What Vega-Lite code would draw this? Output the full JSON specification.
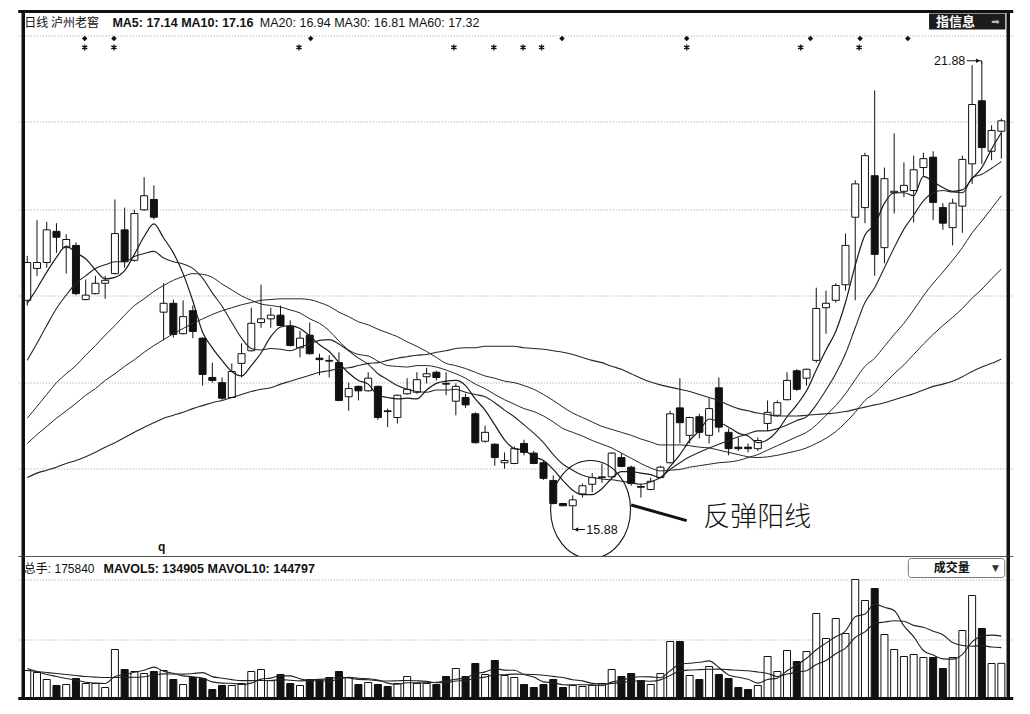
{
"$schema": "https://vega.github.io/schema/vega-lite/v6.json",
"background": "#ffffff",
"padding": {"left": 16.25, "top": 9.5, "right": 15.25, "bottom": 14.5},
"autosize": {"type": "pad"},
"spacing": 0,
"bounds": "flush",
"config": {
 "view": {"stroke": null},
 "axisX": {"grid": false, "labels": false, "ticks": false, "domain": false, "title": null},
 "axisY": {"grid": true, "gridColor": "#9a9a9a", "gridDash": [1, 2], "gridWidth": 1, "labels": false, "ticks": false, "domain": false, "title": null}
},
"datasets": {
"k": [
{"i":0,"o":18.66,"h":19.26,"l":18.59,"c":19.17,"v":140000,"m5":18.62,"m10":17.85,"m20":17.07,"m30":16.73,"m60":16.27,"mv5":150000,"mv10":140000},
{"i":1,"o":19.09,"h":19.74,"l":18.99,"c":19.17,"v":130000,"m5":18.82,"m10":18.08,"m20":17.23,"m30":16.85,"m60":16.33,"mv5":135000,"mv10":135000},
{"i":2,"o":19.17,"h":19.72,"l":19.10,"c":19.61,"v":95000,"m5":19.04,"m10":18.32,"m20":17.39,"m30":16.96,"m60":16.37,"mv5":120000,"mv10":130000},
{"i":3,"o":19.59,"h":19.70,"l":19.30,"c":19.51,"v":65000,"m5":19.24,"m10":18.55,"m20":17.55,"m30":17.07,"m60":16.41,"mv5":110000,"mv10":125000},
{"i":4,"o":19.37,"h":19.55,"l":19.02,"c":19.48,"v":70000,"m5":19.39,"m10":18.73,"m20":17.67,"m30":17.17,"m60":16.46,"mv5":100000,"mv10":120000},
{"i":5,"o":19.40,"h":19.44,"l":18.73,"c":18.75,"v":100000,"m5":19.30,"m10":18.89,"m20":17.78,"m30":17.27,"m60":16.50,"mv5":92000,"mv10":115000},
{"i":6,"o":18.67,"h":18.94,"l":18.66,"c":18.73,"v":75000,"m5":19.22,"m10":18.99,"m20":17.92,"m30":17.38,"m60":16.55,"mv5":81000,"mv10":110000},
{"i":7,"o":18.75,"h":18.99,"l":18.74,"c":18.89,"v":75000,"m5":19.07,"m10":19.09,"m20":18.05,"m30":17.47,"m60":16.61,"mv5":77000,"mv10":107000},
{"i":8,"o":18.89,"h":18.99,"l":18.68,"c":18.93,"v":55000,"m5":18.95,"m10":19.14,"m20":18.19,"m30":17.58,"m60":16.68,"mv5":75000,"mv10":105000},
{"i":9,"o":19.02,"h":20.02,"l":19.01,"c":19.56,"v":245000,"m5":18.97,"m10":19.18,"m20":18.32,"m30":17.67,"m60":16.74,"mv5":110000,"mv10":105000},
{"i":10,"o":19.61,"h":19.91,"l":19.10,"c":19.18,"v":145000,"m5":19.06,"m10":19.18,"m20":18.46,"m30":17.77,"m60":16.81,"mv5":119000,"mv10":105500},
{"i":11,"o":19.20,"h":19.88,"l":19.18,"c":19.83,"v":135000,"m5":19.28,"m10":19.25,"m20":18.59,"m30":17.86,"m60":16.88,"mv5":131000,"mv10":106000},
{"i":12,"o":19.88,"h":20.32,"l":19.87,"c":20.07,"v":125000,"m5":19.52,"m10":19.29,"m20":18.68,"m30":17.96,"m60":16.95,"mv5":141000,"mv10":109000},
{"i":13,"o":20.02,"h":20.21,"l":19.75,"c":19.78,"v":135000,"m5":19.69,"m10":19.32,"m20":18.78,"m30":18.05,"m60":17.01,"mv5":157000,"mv10":116000},
{"i":14,"o":18.50,"h":18.89,"l":18.12,"c":18.62,"v":140000,"m5":19.50,"m10":19.23,"m20":18.86,"m30":18.13,"m60":17.07,"mv5":136000,"mv10":123000},
{"i":15,"o":18.62,"h":18.67,"l":18.16,"c":18.20,"v":95000,"m5":19.30,"m10":19.18,"m20":18.93,"m30":18.21,"m60":17.11,"mv5":126000,"mv10":122500},
{"i":16,"o":18.21,"h":18.66,"l":18.20,"c":18.44,"v":70000,"m5":19.02,"m10":19.15,"m20":18.98,"m30":18.28,"m60":17.15,"mv5":113000,"mv10":122000},
{"i":17,"o":18.52,"h":18.59,"l":18.15,"c":18.24,"v":105000,"m5":18.65,"m10":19.09,"m20":19.02,"m30":18.35,"m60":17.20,"mv5":109000,"mv10":125000},
{"i":18,"o":18.15,"h":18.16,"l":17.51,"c":17.66,"v":100000,"m5":18.23,"m10":18.96,"m20":19.01,"m30":18.41,"m60":17.24,"mv5":102000,"mv10":129500},
{"i":19,"o":17.62,"h":17.82,"l":17.55,"c":17.58,"v":45000,"m5":18.02,"m10":18.76,"m20":18.97,"m30":18.47,"m60":17.28,"mv5":83000,"mv10":109500},
{"i":20,"o":17.55,"h":17.62,"l":17.32,"c":17.34,"v":65000,"m5":17.85,"m10":18.58,"m20":18.88,"m30":18.52,"m60":17.31,"mv5":77000,"mv10":101500},
{"i":21,"o":17.35,"h":17.81,"l":17.34,"c":17.70,"v":65000,"m5":17.70,"m10":18.36,"m20":18.80,"m30":18.56,"m60":17.35,"mv5":76000,"mv10":94500},
{"i":22,"o":17.81,"h":18.08,"l":17.62,"c":17.94,"v":75000,"m5":17.64,"m10":18.15,"m20":18.72,"m30":18.60,"m60":17.39,"mv5":70000,"mv10":89500},
{"i":23,"o":17.98,"h":18.56,"l":17.97,"c":18.35,"v":135000,"m5":17.78,"m10":18.01,"m20":18.66,"m30":18.63,"m60":17.43,"mv5":77000,"mv10":89500},
{"i":24,"o":18.36,"h":18.87,"l":18.29,"c":18.41,"v":145000,"m5":17.95,"m10":17.99,"m20":18.61,"m30":18.66,"m60":17.46,"mv5":97000,"mv10":90000},
{"i":25,"o":18.41,"h":18.56,"l":18.29,"c":18.46,"v":90000,"m5":18.17,"m10":18.01,"m20":18.59,"m30":18.67,"m60":17.48,"mv5":102000,"mv10":89500},
{"i":26,"o":18.46,"h":18.59,"l":18.31,"c":18.32,"v":120000,"m5":18.30,"m10":18.00,"m20":18.57,"m30":18.68,"m60":17.53,"mv5":113000,"mv10":94500},
{"i":27,"o":18.31,"h":18.39,"l":18.04,"c":18.05,"v":75000,"m5":18.32,"m10":17.98,"m20":18.53,"m30":18.68,"m60":17.57,"mv5":113000,"mv10":91500},
{"i":28,"o":18.02,"h":18.25,"l":17.89,"c":18.15,"v":65000,"m5":18.28,"m10":18.03,"m20":18.49,"m30":18.68,"m60":17.61,"mv5":99000,"mv10":88000},
{"i":29,"o":18.19,"h":18.36,"l":17.93,"c":17.94,"v":95000,"m5":18.18,"m10":18.07,"m20":18.41,"m30":18.67,"m60":17.65,"mv5":89000,"mv10":93000},
{"i":30,"o":17.88,"h":17.94,"l":17.65,"c":17.86,"v":90000,"m5":18.06,"m10":18.12,"m20":18.35,"m30":18.63,"m60":17.69,"mv5":89000,"mv10":95500},
{"i":31,"o":17.85,"h":17.92,"l":17.62,"c":17.84,"v":105000,"m5":17.97,"m10":18.13,"m20":18.25,"m30":18.58,"m60":17.71,"mv5":86000,"mv10":99500},
{"i":32,"o":17.82,"h":17.96,"l":17.30,"c":17.31,"v":135000,"m5":17.82,"m10":18.07,"m20":18.11,"m30":18.50,"m60":17.74,"mv5":98000,"mv10":105500},
{"i":33,"o":17.36,"h":17.55,"l":17.17,"c":17.47,"v":105000,"m5":17.68,"m10":17.98,"m20":17.99,"m30":18.44,"m60":17.75,"mv5":106000,"mv10":102500},
{"i":34,"o":17.50,"h":17.51,"l":17.31,"c":17.44,"v":70000,"m5":17.58,"m10":17.88,"m20":17.93,"m30":18.37,"m60":17.78,"mv5":101000,"mv10":95000},
{"i":35,"o":17.44,"h":17.69,"l":17.43,"c":17.61,"v":80000,"m5":17.53,"m10":17.80,"m20":17.91,"m30":18.33,"m60":17.81,"mv5":99000,"mv10":94000},
{"i":36,"o":17.50,"h":17.51,"l":17.05,"c":17.08,"v":70000,"m5":17.38,"m10":17.67,"m20":17.84,"m30":18.27,"m60":17.82,"mv5":92000,"mv10":89000},
{"i":37,"o":17.17,"h":17.20,"l":16.95,"c":17.16,"v":60000,"m5":17.35,"m10":17.59,"m20":17.78,"m30":18.22,"m60":17.85,"mv5":77000,"mv10":87500},
{"i":38,"o":17.08,"h":17.39,"l":17.00,"c":17.38,"v":75000,"m5":17.33,"m10":17.51,"m20":17.77,"m30":18.17,"m60":17.88,"mv5":71000,"mv10":88500},
{"i":39,"o":17.40,"h":17.61,"l":17.39,"c":17.46,"v":110000,"m5":17.34,"m10":17.46,"m20":17.76,"m30":18.10,"m60":17.90,"mv5":79000,"mv10":90000},
{"i":40,"o":17.42,"h":17.69,"l":17.40,"c":17.59,"v":75000,"m5":17.33,"m10":17.43,"m20":17.78,"m30":18.04,"m60":17.92,"mv5":78000,"mv10":88500},
{"i":41,"o":17.63,"h":17.75,"l":17.54,"c":17.67,"v":75000,"m5":17.45,"m10":17.42,"m20":17.78,"m30":17.97,"m60":17.93,"mv5":79000,"mv10":85500},
{"i":42,"o":17.69,"h":17.71,"l":17.58,"c":17.62,"v":70000,"m5":17.54,"m10":17.45,"m20":17.76,"m30":17.89,"m60":17.96,"mv5":81000,"mv10":79000},
{"i":43,"o":17.54,"h":17.69,"l":17.38,"c":17.53,"v":110000,"m5":17.57,"m10":17.45,"m20":17.72,"m30":17.81,"m60":17.98,"mv5":88000,"mv10":79500},
{"i":44,"o":17.30,"h":17.54,"l":17.11,"c":17.50,"v":150000,"m5":17.58,"m10":17.46,"m20":17.67,"m30":17.78,"m60":18.01,"mv5":96000,"mv10":87500},
{"i":45,"o":17.35,"h":17.40,"l":17.21,"c":17.25,"v":110000,"m5":17.51,"m10":17.42,"m20":17.61,"m30":17.74,"m60":18.02,"mv5":103000,"mv10":90500},
{"i":46,"o":17.13,"h":17.15,"l":16.73,"c":16.74,"v":175000,"m5":17.33,"m10":17.39,"m20":17.53,"m30":17.69,"m60":18.02,"mv5":123000,"mv10":101000},
{"i":47,"o":16.76,"h":16.97,"l":16.74,"c":16.88,"v":120000,"m5":17.18,"m10":17.36,"m20":17.47,"m30":17.64,"m60":18.04,"mv5":133000,"mv10":107000},
{"i":48,"o":16.72,"h":16.73,"l":16.43,"c":16.54,"v":190000,"m5":16.98,"m10":17.28,"m20":17.39,"m30":17.61,"m60":18.04,"mv5":149000,"mv10":118500},
{"i":49,"o":16.47,"h":16.61,"l":16.39,"c":16.50,"v":115000,"m5":16.78,"m10":17.18,"m20":17.32,"m30":17.57,"m60":18.04,"mv5":142000,"mv10":119000},
{"i":50,"o":16.46,"h":16.69,"l":16.45,"c":16.66,"v":105000,"m5":16.66,"m10":17.09,"m20":17.26,"m30":17.55,"m60":18.04,"mv5":141000,"mv10":122000},
{"i":51,"o":16.73,"h":16.78,"l":16.57,"c":16.61,"v":70000,"m5":16.64,"m10":16.98,"m20":17.20,"m30":17.51,"m60":18.02,"mv5":120000,"mv10":121500},
{"i":52,"o":16.60,"h":16.63,"l":16.45,"c":16.46,"v":55000,"m5":16.55,"m10":16.87,"m20":17.16,"m30":17.46,"m60":18.01,"mv5":107000,"mv10":120000},
{"i":53,"o":16.47,"h":16.50,"l":16.24,"c":16.26,"v":70000,"m5":16.50,"m10":16.74,"m20":17.10,"m30":17.39,"m60":18.00,"mv5":83000,"mv10":116000},
{"i":54,"o":16.23,"h":16.30,"l":15.91,"c":15.92,"v":95000,"m5":16.38,"m10":16.58,"m20":17.02,"m30":17.31,"m60":17.98,"mv5":79000,"mv10":110500},
{"i":55,"o":15.92,"h":15.93,"l":15.89,"c":15.89,"v":55000,"m5":16.23,"m10":16.45,"m20":16.93,"m30":17.22,"m60":17.96,"mv5":69000,"mv10":105000},
{"i":56,"o":15.89,"h":16.03,"l":15.88,"c":15.97,"v":65000,"m5":16.10,"m10":16.37,"m20":16.88,"m30":17.14,"m60":17.93,"mv5":68000,"mv10":94000},
{"i":57,"o":16.05,"h":16.19,"l":16.00,"c":16.16,"v":60000,"m5":16.04,"m10":16.30,"m20":16.83,"m30":17.08,"m60":17.89,"mv5":69000,"mv10":88000},
{"i":58,"o":16.18,"h":16.33,"l":16.07,"c":16.27,"v":65000,"m5":16.04,"m10":16.27,"m20":16.77,"m30":17.02,"m60":17.85,"mv5":68000,"mv10":75500},
{"i":59,"o":16.27,"h":16.46,"l":16.20,"c":16.28,"v":75000,"m5":16.12,"m10":16.25,"m20":16.72,"m30":16.96,"m60":17.82,"mv5":64000,"mv10":71500},
{"i":60,"o":16.28,"h":16.61,"l":16.27,"c":16.60,"v":145000,"m5":16.26,"m10":16.24,"m20":16.67,"m30":16.92,"m60":17.77,"mv5":82000,"mv10":75500},
{"i":61,"o":16.54,"h":16.60,"l":16.41,"c":16.42,"v":110000,"m5":16.35,"m10":16.22,"m20":16.60,"m30":16.88,"m60":17.73,"mv5":91000,"mv10":79500},
{"i":62,"o":16.41,"h":16.43,"l":16.16,"c":16.19,"v":125000,"m5":16.35,"m10":16.20,"m20":16.53,"m30":16.84,"m60":17.67,"mv5":104000,"mv10":86500},
{"i":63,"o":16.15,"h":16.19,"l":16.00,"c":16.14,"v":90000,"m5":16.33,"m10":16.18,"m20":16.46,"m30":16.79,"m60":17.61,"mv5":109000,"mv10":88500},
{"i":64,"o":16.11,"h":16.27,"l":16.10,"c":16.22,"v":70000,"m5":16.31,"m10":16.21,"m20":16.40,"m30":16.75,"m60":17.56,"mv5":108000,"mv10":86000},
{"i":65,"o":16.27,"h":16.43,"l":16.26,"c":16.41,"v":125000,"m5":16.27,"m10":16.27,"m20":16.36,"m30":16.71,"m60":17.52,"mv5":104000,"mv10":93000},
{"i":66,"o":16.47,"h":17.17,"l":16.46,"c":17.13,"v":285000,"m5":16.42,"m10":16.38,"m20":16.37,"m30":16.71,"m60":17.49,"mv5":139000,"mv10":115000},
{"i":67,"o":17.21,"h":17.61,"l":16.73,"c":17.01,"v":285000,"m5":16.58,"m10":16.47,"m20":16.38,"m30":16.71,"m60":17.46,"mv5":171000,"mv10":137500},
{"i":68,"o":16.84,"h":17.09,"l":16.73,"c":17.08,"v":115000,"m5":16.77,"m10":16.55,"m20":16.41,"m30":16.70,"m60":17.43,"mv5":176000,"mv10":142500},
{"i":69,"o":17.09,"h":17.13,"l":16.80,"c":16.88,"v":95000,"m5":16.90,"m10":16.61,"m20":16.43,"m30":16.68,"m60":17.39,"mv5":181000,"mv10":144500},
{"i":70,"o":16.84,"h":17.34,"l":16.73,"c":17.20,"v":160000,"m5":17.06,"m10":16.67,"m20":16.45,"m30":16.67,"m60":17.35,"mv5":188000,"mv10":146000},
{"i":71,"o":17.48,"h":17.62,"l":16.88,"c":16.95,"v":120000,"m5":17.02,"m10":16.72,"m20":16.47,"m30":16.64,"m60":17.31,"mv5":155000,"mv10":147000},
{"i":72,"o":16.88,"h":16.93,"l":16.57,"c":16.66,"v":100000,"m5":16.95,"m10":16.77,"m20":16.48,"m30":16.61,"m60":17.25,"mv5":118000,"mv10":144500},
{"i":73,"o":16.68,"h":16.81,"l":16.63,"c":16.66,"v":55000,"m5":16.87,"m10":16.82,"m20":16.50,"m30":16.58,"m60":17.20,"mv5":106000,"mv10":141000},
{"i":74,"o":16.68,"h":16.73,"l":16.61,"c":16.66,"v":45000,"m5":16.83,"m10":16.86,"m20":16.54,"m30":16.55,"m60":17.17,"mv5":96000,"mv10":138500},
{"i":75,"o":16.66,"h":16.81,"l":16.63,"c":16.77,"v":65000,"m5":16.74,"m10":16.90,"m20":16.58,"m30":16.54,"m60":17.14,"mv5":77000,"mv10":132500},
{"i":76,"o":17.00,"h":17.31,"l":16.90,"c":17.15,"v":210000,"m5":16.78,"m10":16.90,"m20":16.64,"m30":16.55,"m60":17.12,"mv5":95000,"mv10":125000},
{"i":77,"o":17.11,"h":17.31,"l":17.09,"c":17.28,"v":135000,"m5":16.90,"m10":16.93,"m20":16.70,"m30":16.57,"m60":17.10,"mv5":102000,"mv10":110000},
{"i":78,"o":17.32,"h":17.69,"l":17.31,"c":17.58,"v":240000,"m5":17.09,"m10":16.98,"m20":16.76,"m30":16.60,"m60":17.10,"mv5":139000,"mv10":122500},
{"i":79,"o":17.71,"h":17.73,"l":17.44,"c":17.46,"v":185000,"m5":17.25,"m10":17.04,"m20":16.82,"m30":16.63,"m60":17.10,"mv5":167000,"mv10":131500},
{"i":80,"o":17.61,"h":17.74,"l":17.51,"c":17.73,"v":235000,"m5":17.44,"m10":17.09,"m20":16.88,"m30":16.67,"m60":17.11,"mv5":201000,"mv10":139000},
{"i":81,"o":17.85,"h":18.83,"l":17.82,"c":18.55,"v":425000,"m5":17.72,"m10":17.25,"m20":16.98,"m30":16.73,"m60":17.12,"mv5":244000,"mv10":169500},
{"i":82,"o":18.56,"h":18.79,"l":18.21,"c":18.62,"v":300000,"m5":17.99,"m10":17.45,"m20":17.11,"m30":16.80,"m60":17.13,"mv5":277000,"mv10":189500},
{"i":83,"o":18.66,"h":18.89,"l":18.63,"c":18.86,"v":400000,"m5":18.24,"m10":17.67,"m20":17.24,"m30":16.89,"m60":17.14,"mv5":309000,"mv10":224000},
{"i":84,"o":18.87,"h":19.56,"l":18.79,"c":19.40,"v":325000,"m5":18.63,"m10":17.94,"m20":17.40,"m30":17.01,"m60":17.16,"mv5":337000,"mv10":252000},
{"i":85,"o":19.78,"h":20.28,"l":18.66,"c":20.23,"v":595000,"m5":19.13,"m10":18.29,"m20":17.59,"m30":17.15,"m60":17.19,"mv5":409000,"mv10":305000},
{"i":86,"o":19.91,"h":20.65,"l":19.70,"c":20.61,"v":490000,"m5":19.54,"m10":18.63,"m20":17.77,"m30":17.31,"m60":17.22,"mv5":422000,"mv10":333000},
{"i":87,"o":20.34,"h":21.49,"l":18.99,"c":19.28,"v":550000,"m5":19.68,"m10":18.83,"m20":17.88,"m30":17.41,"m60":17.25,"mv5":472000,"mv10":374500},
{"i":88,"o":19.37,"h":20.45,"l":19.16,"c":20.30,"v":320000,"m5":19.97,"m10":19.10,"m20":18.04,"m30":17.54,"m60":17.28,"mv5":456000,"mv10":382500},
{"i":89,"o":20.11,"h":20.91,"l":19.83,"c":20.13,"v":245000,"m5":20.11,"m10":19.37,"m20":18.20,"m30":17.67,"m60":17.32,"mv5":440000,"mv10":388500},
{"i":90,"o":20.13,"h":20.52,"l":20.05,"c":20.21,"v":210000,"m5":20.11,"m10":19.62,"m20":18.35,"m30":17.79,"m60":17.36,"mv5":363000,"mv10":386000},
{"i":91,"o":20.14,"h":20.61,"l":19.71,"c":20.42,"v":220000,"m5":20.07,"m10":19.81,"m20":18.53,"m30":17.93,"m60":17.40,"mv5":309000,"mv10":365500},
{"i":92,"o":20.45,"h":20.65,"l":20.34,"c":20.57,"v":205000,"m5":20.33,"m10":20.00,"m20":18.72,"m30":18.07,"m60":17.45,"mv5":240000,"mv10":356000},
{"i":93,"o":20.59,"h":20.67,"l":19.74,"c":19.98,"v":205000,"m5":20.26,"m10":20.11,"m20":18.89,"m30":18.20,"m60":17.50,"mv5":217000,"mv10":336500},
{"i":94,"o":19.91,"h":19.97,"l":19.61,"c":19.70,"v":150000,"m5":20.18,"m10":20.14,"m20":19.04,"m30":18.32,"m60":17.53,"mv5":198000,"mv10":319000},
{"i":95,"o":19.64,"h":20.03,"l":19.40,"c":19.97,"v":205000,"m5":20.13,"m10":20.12,"m20":19.20,"m30":18.43,"m60":17.57,"mv5":197000,"mv10":280000},
{"i":96,"o":19.93,"h":20.61,"l":19.57,"c":20.56,"v":340000,"m5":20.15,"m10":20.11,"m20":19.37,"m30":18.55,"m60":17.63,"mv5":221000,"mv10":265000},
{"i":97,"o":20.50,"h":21.83,"l":20.23,"c":21.30,"v":515000,"m5":20.30,"m10":20.31,"m20":19.57,"m30":18.69,"m60":17.70,"mv5":283000,"mv10":261500},
{"i":98,"o":21.35,"h":21.88,"l":20.50,"c":20.72,"v":350000,"m5":20.45,"m10":20.36,"m20":19.73,"m30":18.81,"m60":17.76,"mv5":312000,"mv10":264500},
{"i":99,"o":20.67,"h":21.02,"l":20.55,"c":20.95,"v":175000,"m5":20.70,"m10":20.44,"m20":19.90,"m30":18.95,"m60":17.81,"mv5":317000,"mv10":257500},
{"i":100,"o":20.94,"h":21.11,"l":20.57,"c":21.08,"v":175840,"m5":20.92,"m10":20.53,"m20":20.07,"m30":19.08,"m60":17.87,"mv5":312000,"mv10":254500}
],
"dia": [{"i":5.9},{"i":8.9},{"i":29.1},{"i":54.9},{"i":67.7},{"i":80.4},{"i":85.5},{"i":90.4}],
"ast": [{"i":5.9},{"i":8.9},{"i":27.9},{"i":43.8},{"i":47.9},{"i":50.9},{"i":52.8},{"i":67.7},{"i":79.4},{"i":85.4}]
},
"vconcat": [
{
 "width": 995, "height": 545,
 "data": {"name": "k"},
 "layer": [
  {"mark": {"type": "rule", "color": "#111111", "strokeWidth": 1},
   "encoding": {
    "x": {"field": "i", "type": "quantitative", "scale": {"domain": [-0.41, 100.71], "nice": false, "zero": false}},
    "y": {"field": "l", "type": "quantitative", "scale": {"domain": [15.206, 22.554], "nice": false, "zero": false}, "axis": {"values": [16.39, 17.55, 18.72, 19.89, 21.07, 22.23]}},
    "y2": {"field": "h"}}},
  {"mark": {"type": "bar", "size": 7, "stroke": "#111111", "strokeWidth": 1},
   "encoding": {
    "x": {"field": "i", "type": "quantitative"},
    "y": {"field": "o", "type": "quantitative"},
    "y2": {"field": "c"},
    "fill": {"condition": {"test": "datum.c >= datum.o", "value": "#ffffff"}, "value": "#111111"}}},
  {"mark": {"type": "line", "color": "#262626", "strokeWidth": 1.1, "interpolate": "monotone"},
   "encoding": {"x": {"field": "i", "type": "quantitative"}, "y": {"field": "m60", "type": "quantitative"}}},
  {"mark": {"type": "line", "color": "#262626", "strokeWidth": 1, "interpolate": "monotone"},
   "encoding": {"x": {"field": "i", "type": "quantitative"}, "y": {"field": "m30", "type": "quantitative"}}},
  {"mark": {"type": "line", "color": "#262626", "strokeWidth": 1, "interpolate": "monotone"},
   "encoding": {"x": {"field": "i", "type": "quantitative"}, "y": {"field": "m20", "type": "quantitative"}}},
  {"mark": {"type": "line", "color": "#262626", "strokeWidth": 1.1, "interpolate": "monotone"},
   "encoding": {"x": {"field": "i", "type": "quantitative"}, "y": {"field": "m10", "type": "quantitative"}}},
  {"mark": {"type": "line", "color": "#1a1a1a", "strokeWidth": 1.2, "interpolate": "monotone"},
   "encoding": {"x": {"field": "i", "type": "quantitative"}, "y": {"field": "m5", "type": "quantitative"}}},
  {"data": {"name": "dia"},
   "mark": {"type": "point", "shape": "diamond", "filled": true, "size": 30, "color": "#111111", "opacity": 1},
   "encoding": {"x": {"field": "i", "type": "quantitative"}, "y": {"datum": 22.19, "type": "quantitative"}}},
  {"data": {"name": "ast"},
   "mark": {"type": "point", "shape": "M 0 -1 L 0 1 M -0.87 -0.5 L 0.87 0.5 M -0.87 0.5 L 0.87 -0.5", "filled": false, "size": 36, "strokeWidth": 1.3, "color": "#111111", "opacity": 1},
   "encoding": {"x": {"field": "i", "type": "quantitative"}, "y": {"datum": 22.07, "type": "quantitative"}}},
  {"data": {"values": [{}]},
   "mark": {"type": "text", "text": "日线  泸州老窖", "align": "left", "baseline": "middle", "fontSize": 12, "font": "'Noto Sans CJK SC'", "color": "#111111"},
   "encoding": {"x": {"datum": -0.3, "type": "quantitative"}, "y": {"datum": 22.4, "type": "quantitative"}}},
  {"data": {"values": [{}]},
   "mark": {"type": "text", "text": "MA5: 17.14 MA10: 17.16", "align": "left", "baseline": "middle", "fontSize": 12.5, "fontWeight": "bold", "font": "Liberation Sans", "color": "#111111"},
   "encoding": {"x": {"datum": 8.74, "type": "quantitative"}, "y": {"datum": 22.4, "type": "quantitative"}}},
  {"data": {"values": [{}]},
   "mark": {"type": "text", "text": "MA20: 16.94 MA30: 16.81 MA60: 17.32", "align": "left", "baseline": "middle", "fontSize": 12.5, "font": "Liberation Sans", "color": "#111111"},
   "encoding": {"x": {"datum": 23.88, "type": "quantitative"}, "y": {"datum": 22.4, "type": "quantitative"}}},
  {"data": {"values": [{}]},
   "mark": {"type": "rect", "color": "#1c1c1c"},
   "encoding": {"x": {"datum": 92.58, "type": "quantitative"}, "x2": {"datum": 100.41}, "y": {"datum": 22.527, "type": "quantitative"}, "y2": {"datum": 22.311}}},
  {"data": {"values": [{}]},
   "mark": {"type": "text", "text": "指信息", "align": "center", "baseline": "middle", "fontSize": 13, "fontWeight": "bold", "font": "'Noto Sans CJK SC'", "color": "#ffffff"},
   "encoding": {"x": {"datum": 95.3, "type": "quantitative"}, "y": {"datum": 22.419, "type": "quantitative"}}},
  {"data": {"values": [{}]},
   "mark": {"type": "text", "text": "➡", "align": "center", "baseline": "middle", "fontSize": 10, "font": "DejaVu Sans", "color": "#bbbbbb"},
   "encoding": {"x": {"datum": 99.4, "type": "quantitative"}, "y": {"datum": 22.419, "type": "quantitative"}}},
  {"data": {"values": [{}]},
   "mark": {"type": "text", "text": "21.88", "align": "right", "baseline": "middle", "fontSize": 12.5, "font": "Liberation Sans", "color": "#111111"},
   "encoding": {"x": {"datum": 96.3, "type": "quantitative"}, "y": {"datum": 21.89, "type": "quantitative"}}},
  {"data": {"values": [{}]},
   "mark": {"type": "rule", "color": "#111111", "strokeWidth": 1},
   "encoding": {"x": {"datum": 96.45, "type": "quantitative"}, "x2": {"datum": 97.97}, "y": {"datum": 21.89, "type": "quantitative"}}},
  {"data": {"values": [{}]},
   "mark": {"type": "rule", "color": "#111111", "strokeWidth": 1},
   "encoding": {"x": {"datum": 97.97, "type": "quantitative"}, "y": {"datum": 21.89, "type": "quantitative"}, "y2": {"datum": 21.85}}},
  {"data": {"values": [{}]},
   "mark": {"type": "point", "shape": "triangle-right", "filled": true, "size": 22, "color": "#111111", "opacity": 1},
   "encoding": {"x": {"datum": 97.6, "type": "quantitative"}, "y": {"datum": 21.89, "type": "quantitative"}}},
  {"data": {"values": [{}]},
   "mark": {"type": "rule", "color": "#111111", "strokeWidth": 1},
   "encoding": {"x": {"datum": 56, "type": "quantitative"}, "y": {"datum": 15.88, "type": "quantitative"}, "y2": {"datum": 15.57}}},
  {"data": {"values": [{}]},
   "mark": {"type": "rule", "color": "#111111", "strokeWidth": 1},
   "encoding": {"x": {"datum": 56, "type": "quantitative"}, "x2": {"datum": 57.25}, "y": {"datum": 15.57, "type": "quantitative"}}},
  {"data": {"values": [{}]},
   "mark": {"type": "point", "shape": "triangle-left", "filled": true, "size": 22, "color": "#111111", "opacity": 1},
   "encoding": {"x": {"datum": 56.35, "type": "quantitative"}, "y": {"datum": 15.57, "type": "quantitative"}}},
  {"data": {"values": [{}]},
   "mark": {"type": "text", "text": "15.88", "align": "left", "baseline": "middle", "fontSize": 12.5, "font": "Liberation Sans", "color": "#111111"},
   "encoding": {"x": {"datum": 57.4, "type": "quantitative"}, "y": {"datum": 15.57, "type": "quantitative"}}},
  {"data": {"values": [{}]},
   "mark": {"type": "point", "shape": "M -0.816 0 A 0.816 1 0 1 0 0.816 0 A 0.816 1 0 1 0 -0.816 0 Z", "size": 9604, "filled": false, "color": "#111111", "strokeWidth": 1.1, "opacity": 1, "clip": true},
   "encoding": {"x": {"datum": 57.83, "type": "quantitative"}, "y": {"datum": 15.84, "type": "quantitative"}}},
  {"data": {"values": [{}]},
   "mark": {"type": "rule", "color": "#111111", "strokeWidth": 3},
   "encoding": {"x": {"datum": 62.0, "type": "quantitative"}, "x2": {"datum": 67.7}, "y": {"datum": 15.9, "type": "quantitative"}, "y2": {"datum": 15.69}}},
  {"data": {"values": [{}]},
   "mark": {"type": "text", "text": "反弹阳线", "align": "left", "baseline": "middle", "fontSize": 27, "fontWeight": 300, "font": "'Noto Sans CJK SC'", "color": "#111111"},
   "encoding": {"x": {"datum": 69.4, "type": "quantitative"}, "y": {"datum": 15.73, "type": "quantitative"}}},
  {"data": {"values": [{}]},
   "mark": {"type": "text", "text": "q", "align": "center", "baseline": "middle", "fontSize": 12, "fontWeight": "bold", "font": "Liberation Sans", "color": "#111111"},
   "encoding": {"x": {"datum": 13.8, "type": "quantitative"}, "y": {"datum": 15.34, "type": "quantitative"}}},
  {"data": {"values": [{}]},
   "mark": {"type": "rule", "color": "#111111", "strokeWidth": 3.5},
   "encoding": {"x": {"datum": -0.41, "type": "quantitative"}}},
  {"data": {"values": [{}]},
   "mark": {"type": "rule", "color": "#111111", "strokeWidth": 3.5},
   "encoding": {"x": {"datum": 100.71, "type": "quantitative"}}},
  {"data": {"values": [{}]},
   "mark": {"type": "rule", "color": "#111111", "strokeWidth": 3},
   "encoding": {"y": {"datum": 22.554, "type": "quantitative"}}},
  {"data": {"values": [{}]},
   "mark": {"type": "rule", "color": "#555555", "strokeWidth": 1.2},
   "encoding": {"y": {"datum": 15.206, "type": "quantitative"}}}
 ]
},
{
 "width": 995, "height": 142,
 "data": {"name": "k"},
 "layer": [
  {"mark": {"type": "bar", "size": 7, "stroke": "#111111", "strokeWidth": 1},
   "encoding": {
    "x": {"field": "i", "type": "quantitative", "scale": {"domain": [-0.41, 100.71], "nice": false, "zero": false}},
    "y": {"field": "v", "type": "quantitative", "scale": {"domain": [0, 710000], "nice": false}, "axis": {"values": [295000, 595000]}},
    "fill": {"condition": {"test": "datum.c >= datum.o", "value": "#ffffff"}, "value": "#111111"}}},
  {"mark": {"type": "line", "color": "#222222", "strokeWidth": 1.1, "interpolate": "monotone"},
   "encoding": {"x": {"field": "i", "type": "quantitative"}, "y": {"field": "mv10", "type": "quantitative"}}},
  {"mark": {"type": "line", "color": "#222222", "strokeWidth": 1.1, "interpolate": "monotone"},
   "encoding": {"x": {"field": "i", "type": "quantitative"}, "y": {"field": "mv5", "type": "quantitative"}}},
  {"data": {"values": [{}]},
   "mark": {"type": "text", "text": "总手: 175840", "align": "left", "baseline": "middle", "fontSize": 12, "font": "Liberation Sans, 'Noto Sans CJK SC'", "color": "#111111"},
   "encoding": {"x": {"datum": -0.35, "type": "quantitative"}, "y": {"datum": 650000, "type": "quantitative"}}},
  {"data": {"values": [{}]},
   "mark": {"type": "text", "text": "MAVOL5: 134905 MAVOL10: 144797", "align": "left", "baseline": "middle", "fontSize": 12.5, "fontWeight": "bold", "font": "Liberation Sans", "color": "#111111"},
   "encoding": {"x": {"datum": 7.83, "type": "quantitative"}, "y": {"datum": 650000, "type": "quantitative"}}},
  {"data": {"values": [{}]},
   "mark": {"type": "rect", "fill": "#ffffff", "stroke": "#777777", "strokeWidth": 1, "cornerRadius": 3},
   "encoding": {"x": {"datum": 90.45, "type": "quantitative"}, "x2": {"datum": 100.35}, "y": {"datum": 700000, "type": "quantitative"}, "y2": {"datum": 605000}}},
  {"data": {"values": [{}]},
   "mark": {"type": "text", "text": "成交量", "align": "center", "baseline": "middle", "fontSize": 12, "fontWeight": "bold", "font": "'Noto Sans CJK SC'", "color": "#111111"},
   "encoding": {"x": {"datum": 94.9, "type": "quantitative"}, "y": {"datum": 652000, "type": "quantitative"}}},
  {"data": {"values": [{}]},
   "mark": {"type": "text", "text": "▼", "align": "center", "baseline": "middle", "fontSize": 9, "font": "DejaVu Sans", "color": "#333333"},
   "encoding": {"x": {"datum": 99.4, "type": "quantitative"}, "y": {"datum": 652000, "type": "quantitative"}}},
  {"data": {"values": [{}]},
   "mark": {"type": "rule", "color": "#111111", "strokeWidth": 3.5},
   "encoding": {"x": {"datum": -0.41, "type": "quantitative"}}},
  {"data": {"values": [{}]},
   "mark": {"type": "rule", "color": "#111111", "strokeWidth": 3.5},
   "encoding": {"x": {"datum": 100.71, "type": "quantitative"}}},
  {"data": {"values": [{}]},
   "mark": {"type": "rule", "color": "#111111", "strokeWidth": 3},
   "encoding": {"y": {"datum": 0, "type": "quantitative"}}}
 ]
}
]
}
